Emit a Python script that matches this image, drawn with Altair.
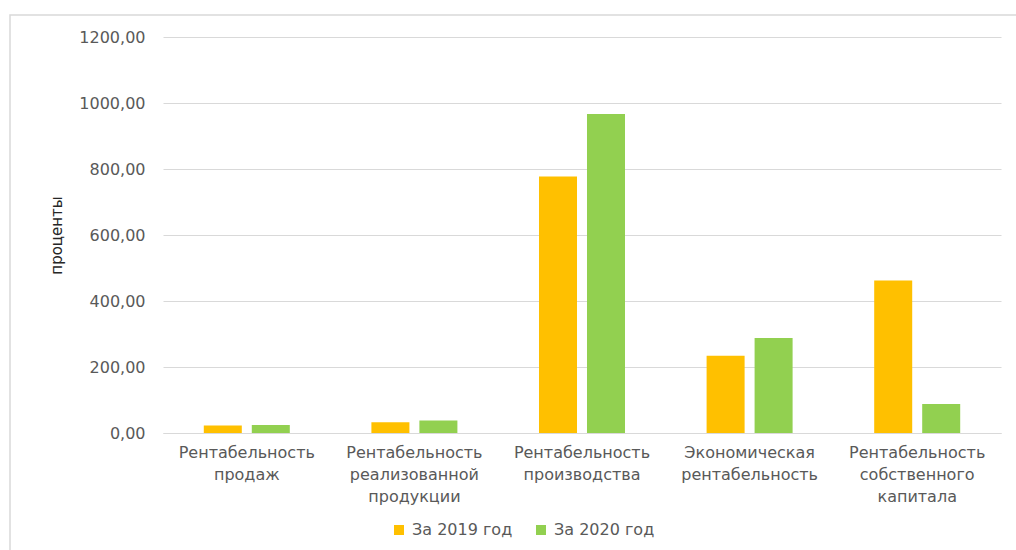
import altair as alt
import pandas as pd

# Profitability indicators, percent
categories = [
    "Рентабельность продаж",
    "Рентабельность реализованной продукции",
    "Рентабельность производства",
    "Экономическая рентабельность",
    "Рентабельность собственного капитала",
]
series = ["За 2019 год", "За 2020 год"]
values_2019 = [22.5, 32.6, 777.0, 234.0, 462.0]
values_2020 = [24.4, 37.7, 967.0, 288.0, 88.0]
colors = ["#FFC000", "#92D050"]
y_ticks = [0, 200, 400, 600, 800, 1000, 1200]

df = pd.DataFrame({
    "category": categories * 2,
    "series": [series[0]] * len(categories) + [series[1]] * len(categories),
    "value": values_2019 + values_2020,
})

FONT = "DejaVu Sans"
FS = 16
GRID = "#d9d9d9"
TEXT = "#595959"

bars = alt.Chart(df).mark_bar().encode(
    x=alt.X(
        "category:N",
        sort=categories,
        scale=alt.Scale(paddingInner=0, paddingOuter=0),
        axis=alt.Axis(
            title=None,
            labelExpr="split(datum.label, ' ')",
            labelAngle=0,
            domain=True,
            domainColor=GRID,
            ticks=False,
            grid=False,
            labelPadding=11,
            labelLineHeight=22,
            labelFontSize=FS,
            labelColor=TEXT,
            labelFont=FONT,
        ),
    ),
    xOffset=alt.XOffset(
        "series:N",
        sort=series,
        scale=alt.Scale(paddingInner=0.208, paddingOuter=0.85),
    ),
    y=alt.Y(
        "value:Q",
        scale=alt.Scale(domain=[0, 1200]),
        axis=alt.Axis(
            values=y_ticks,
            labelExpr="replace(format(datum.value, '.2f'), '.', ',')",
            title="проценты",
            titleFont=FONT,
            titleFontSize=15,
            titleFontWeight="normal",
            titleColor="#262626",
            titlePadding=14,
            domain=False,
            ticks=False,
            grid=True,
            gridColor=GRID,
            labelPadding=18,
            labelFontSize=FS,
            labelColor=TEXT,
            labelFont=FONT,
        ),
    ),
    color=alt.Color(
        "series:N",
        sort=series,
        scale=alt.Scale(domain=series, range=colors),
        legend=alt.Legend(
            title=None,
            orient="none",
            legendX=228,
            legendY=485,
            direction="horizontal",
            symbolType="square",
            symbolSize=100,
            symbolStrokeWidth=0,
            labelFontSize=FS,
            labelColor=TEXT,
            labelFont=FONT,
            labelOffset=5,
            columnPadding=20,
        ),
    ),
)

# light frame around the whole chart
frame = alt.Chart(pd.DataFrame({"f": [0]})).mark_rect(
    fillOpacity=0, stroke=GRID, strokeWidth=1.5
).encode(
    x=alt.value(-153), x2=alt.value(900), y=alt.value(-22), y2=alt.value(600)
)

chart = alt.layer(frame, bars).properties(
    width=838,
    height=396,
    autosize=alt.AutoSizeParams(type="none"),
    padding={"left": 163, "top": 37, "right": 15, "bottom": 117},
).configure(background="white").configure_view(stroke=None)

chart.save("out.html", embed_options={"renderer": "svg", "actions": False})
